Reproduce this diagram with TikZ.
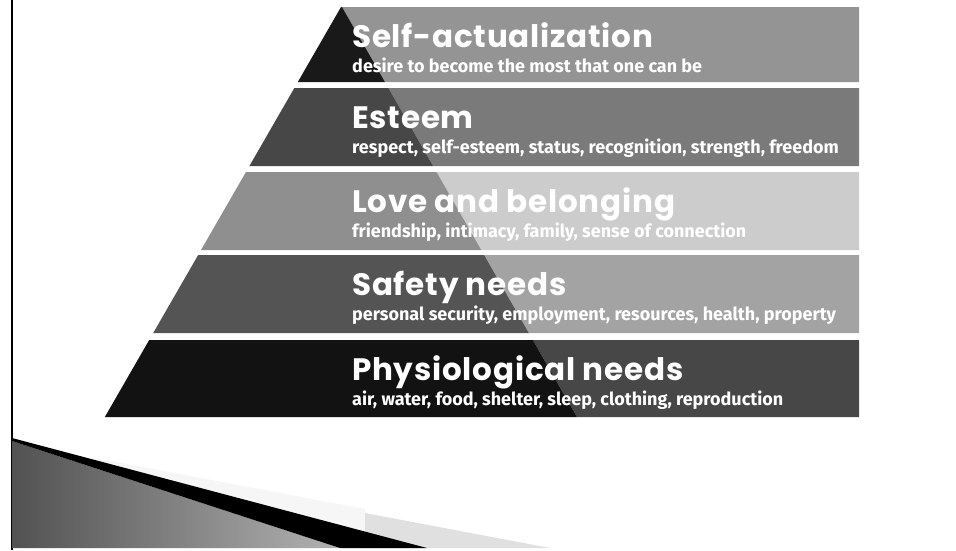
\documentclass[tikz,border=0pt]{standalone}
\usepackage{fontspec}
\setmainfont{Fira Sans}
\newfontfamily\headfont{Poppins}[LetterSpace=2.5]
\usepackage{xcolor}
% left faces of the pyramid and the banners behind the texts
\definecolor{faceSelf}{gray}{0.10}
\definecolor{bandSelf}{gray}{0.58}
\definecolor{faceEsteem}{gray}{0.28}
\definecolor{bandEsteem}{gray}{0.48}
\definecolor{faceLove}{gray}{0.56}
\definecolor{bandLove}{gray}{0.80}
\definecolor{faceSafety}{gray}{0.33}
\definecolor{bandSafety}{gray}{0.64}
\definecolor{facePhysio}{gray}{0.07}
\definecolor{bandPhysio}{gray}{0.28}

\tikzset{
  needtitle/.style={anchor=base west,inner sep=0pt,text=white,
    font=\headfont\bfseries\fontsize{31}{31}\selectfont},
  needtext/.style={anchor=base west,inner sep=0pt,text=white,
    font=\bfseries\fontsize{18}{18}\selectfont},
}

\begin{document}
\begin{tikzpicture}[x=1pt,y=-1pt]
\useasboundingbox (0,0) rectangle (956,550);

% slide frame and corner swoosh
\draw[line width=2.5pt] (12,0) -- (12,550);
\fill[gray!7] (90,457) -- (365,509) -- (365,548) -- (300,548) -- cycle;
\fill[gray!24] (365,513) -- (550,548) -- (365,548) -- cycle;
\shade[left color=black!68,right color=black!30] (12,441) -- (340,548) -- (12,548) -- cycle;
\fill[black] (12,438) -- (427,548) -- (340,548) -- (12,441) -- cycle;

% the five levels
\foreach \t/\b/\face/\band/\name/\title/\desc in {
  7/82/faceSelf/bandSelf/self/Self-actualization/{desire to become the most that one can be},
  88/166/faceEsteem/bandEsteem/esteem/Esteem/{respect, self-esteem, status, recognition, strength, freedom},
  172/250/faceLove/bandLove/love/Love and belonging/{friendship, intimacy, family, sense of connection},
  255/333/faceSafety/bandSafety/safety/Safety needs/{personal security, employment, resources, health, property},
  340/417/facePhysio/bandPhysio/physio/Physiological needs/{air, water, food, shelter, sleep, clothing, reproduction}} {
  \pgfmathsetmacro\xlt{341-0.576*(\t-7)}
  \pgfmathsetmacro\xlb{341-0.576*(\b-7)}
  \pgfmathsetmacro\xst{342+0.573*(\t-7)}
  \pgfmathsetmacro\xsb{342+0.573*(\b-7)}
  \fill[\band] (\xst,\t) -- (859,\t) -- (859,\b) -- (\xsb,\b) -- cycle;
  \fill[\face] (\xlt,\t) -- (\xst,\t) -- (\xsb,\b) -- (\xlb,\b) -- cycle;
  \node[needtitle] (\name-title) at (352,{\t+40}) {\title};
  \node[needtext] (\name-text) at (352,{\t+65}) {\desc};
}
\end{tikzpicture}
\end{document}
